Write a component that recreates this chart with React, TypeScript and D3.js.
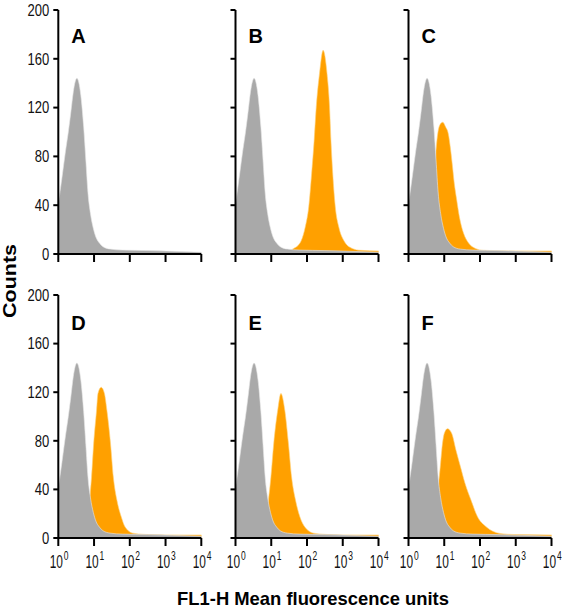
import React from "react";
import * as d3 from "d3";

// ---- data (x values are log10 of fluorescence, y values are counts) ----
const panelLabels = ["A", "B", "C", "D", "E", "F"];
const yTicks = [0, 40, 80, 120, 160, 200];
const xTickExps = [0, 1, 2, 3, 4];
const yAxisTitle = "Counts";
const xAxisTitle = "FL1-H Mean fluorescence units";

const grayCurve: [number, number][] = [
  [0, 41], [0.1, 62], [0.2, 84], [0.28, 100], [0.35, 116], [0.42, 133],
  [0.47, 141], [0.52, 144], [0.57, 141], [0.63, 130], [0.71, 104], [0.77, 77],
  [0.83, 50], [0.9, 33], [0.98, 21], [1.05, 14], [1.15, 9], [1.25, 6],
  [1.45, 4], [1.8, 3.2], [2.5, 2.8], [3.2, 2.2], [4, 1.5],
];

const orangeB: [number, number][] = [
  [1.3, 1], [1.5, 2.5], [1.63, 4.6], [1.75, 7], [1.84, 11], [1.95, 22],
  [2.05, 39], [2.13, 66], [2.2, 93], [2.26, 121], [2.35, 148], [2.45, 167],
  [2.56, 148], [2.63, 121], [2.67, 93], [2.72, 66], [2.79, 39], [2.89, 22],
  [3.03, 11], [3.26, 4.6], [3.5, 3], [4, 2.5],
];

const orangeC: [number, number][] = [
  [0.45, 2], [0.55, 8], [0.62, 20], [0.68, 40], [0.74, 72], [0.77, 85],
  [0.82, 99], [0.88, 106], [0.96, 108], [1.04, 104], [1.11, 99], [1.18, 85],
  [1.23, 72], [1.28, 58], [1.35, 44], [1.42, 31], [1.54, 17], [1.68, 9],
  [1.87, 4.6], [2.1, 3], [3, 2.5], [4, 2.5],
];

const orangeD: [number, number][] = [
  [0.6, 2], [0.7, 6], [0.8, 15], [0.87, 30], [0.93, 50], [0.99, 78],
  [1.07, 105], [1.11, 119], [1.2, 124], [1.29, 119], [1.36, 105], [1.46, 78],
  [1.54, 50], [1.64, 31], [1.76, 17.5], [1.87, 9], [2.08, 4], [2.4, 3],
  [3, 2.5], [4, 2.5],
];

const orangeE: [number, number][] = [
  [0.65, 2], [0.75, 7], [0.85, 18], [0.92, 31], [0.99, 50], [1.07, 78],
  [1.18, 105], [1.27, 119], [1.38, 105], [1.48, 78], [1.57, 50], [1.68, 31],
  [1.8, 17.5], [1.94, 9], [2.18, 4], [2.5, 3], [3, 2.5], [4, 2.5],
];

const orangeF: [number, number][] = [
  [0.55, 2], [0.65, 8], [0.75, 22], [0.82, 40], [0.86, 50], [0.89, 59],
  [0.93, 72], [1.0, 86], [1.09, 90], [1.21, 86], [1.33, 72], [1.45, 59],
  [1.58, 45], [1.75, 31], [1.93, 17.5], [2.17, 9.3], [2.55, 3.8], [3, 2.8],
  [4, 2.5],
];

const orangeCurves: ([number, number][] | null)[] = [
  null, orangeB, orangeC, orangeD, orangeE, orangeF,
];

// ---- layout ----
const colX = [58.3, 235.5, 408.5];
const plotW = 143;
const rowY: [number, number][] = [[10, 254], [295, 538]];
const GRAY = "#a9a9a9";
const ORANGE = "#ffa000";
const SANS = "'Liberation Sans', Arial, Helvetica, sans-serif";

function Panel({ idx }: { idx: number }) {
  const col = idx % 3;
  const row = Math.floor(idx / 3);
  const x0 = colX[col];
  const [yTop, yBot] = rowY[row];
  const x = d3.scaleLog().domain([1, 1e4]).range([x0, x0 + plotW]);
  const y = d3.scaleLinear().domain([0, 200]).range([yBot, yTop]);
  const area = d3
    .area<[number, number]>()
    .x((d) => x(Math.pow(10, d[0])))
    .y0(y(0))
    .y1((d) => y(d[1]))
    .curve(d3.curveMonotoneX);
  const orange = orangeCurves[idx];
  const showY = col === 0;
  const showX = row === 1;
  return (
    <g>
      {orange && (
        <path d={area(orange) || ""} fill={ORANGE} stroke="#ffd27a" strokeWidth={0.6} />
      )}
      <path d={area(grayCurve) || ""} fill={GRAY} stroke="#e6e6e6" strokeWidth={0.6} />
      {/* y axis */}
      <line x1={x0} x2={x0} y1={y(200)} y2={y(0)} stroke="#000" strokeWidth={2} />
      {yTicks.map((t) => (
        <g key={"y" + t}>
          <line x1={x0 - 5} x2={x0} y1={y(t)} y2={y(t)} stroke="#000" strokeWidth={2} />
          {showY && (
            <g transform={`translate(${x0 - 9},${y(t)}) scale(0.8,1)`}>
              <text
                x={0}
                y={0}
                dy="0.36em"
                textAnchor="end"
                fontFamily={SANS}
                fontSize={16.3}
                fill="#111"
              >
                {t}
              </text>
            </g>
          )}
        </g>
      ))}
      {/* x axis */}
      <line x1={x(1)} x2={x(1e4)} y1={y(0)} y2={y(0)} stroke="#000" strokeWidth={2} />
      {xTickExps.map((e) => {
        const xv = x(Math.pow(10, e));
        return (
          <g key={"x" + e}>
            <line x1={xv} x2={xv} y1={y(0)} y2={y(0) + 8} stroke="#000" strokeWidth={2} />
            {showX && (
              <g transform={`translate(${xv},${y(0) + 29.5}) scale(0.68,1)`}>
                <text
                  x={-3}
                  y={0}
                  textAnchor="middle"
                  fontFamily={SANS}
                  fontSize={17.5}
                  fill="#111"
                >
                  10
                </text>
                <text x={8} y={-8} fontFamily={SANS} fontSize={12.5} fill="#111">
                  {e}
                </text>
              </g>
            )}
          </g>
        );
      })}
      <text
        x={x0 + 13}
        y={yTop + (row === 0 ? 33 : 35)}
        fontFamily={SANS}
        fontWeight="bold"
        fontSize={20}
        fill="#000"
      >
        {panelLabels[idx]}
      </text>
    </g>
  );
}

export default function App() {
  return (
    <svg width={562} height={608} style={{ display: "block", position: "absolute", left: 0, top: 0 }}>
      <rect width={562} height={608} fill="#fff" />
      {panelLabels.map((_, i) => (
        <Panel key={i} idx={i} />
      ))}
      <text
        transform="translate(16,281) rotate(-90)"
        textAnchor="middle"
        fontFamily={SANS}
        fontWeight="bold"
        fontSize={18}
        textLength={74}
        lengthAdjust="spacingAndGlyphs"
        fill="#000"
      >
        {yAxisTitle}
      </text>
      <text
        x={313}
        y={605}
        textAnchor="middle"
        fontFamily={SANS}
        fontWeight="bold"
        fontSize={18.4}
        fill="#000"
      >
        {xAxisTitle}
      </text>
    </svg>
  );
}
